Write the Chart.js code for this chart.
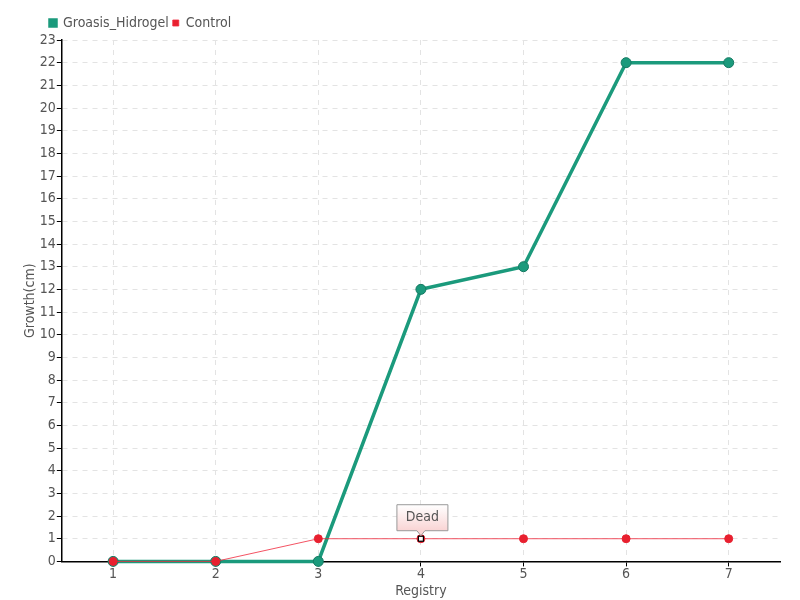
<!DOCTYPE html>
<html>
<head>
<meta charset="utf-8">
<script src="https://cdn.jsdelivr.net/npm/chart.js@4.4.0/dist/chart.umd.min.js"></script>
<style>
  html, body { margin: 0; padding: 0; background: #fff; }
  #wrap { width: 800px; height: 600px; }
</style>
</head>
<body>
<div id="wrap"><canvas id="chart"></canvas></div>
<script>
const REGISTRY = ["1", "2", "3", "4", "5", "6", "7"];
const GROASIS = [0, 0, 0, 12, 13, 22, 22];
const CONTROL = [0, 0, 1, 1, 1, 1, 1];
const DEAD_INDEX = 3;
const DEAD_LABEL = "Dead";

const COLORS = {
  teal: "#1b9a7c",
  tealDark: "#167a63",
  red: "#e8202f",
  text: "#555555",
  grid: "#e3e3e3",
};

const FONT = "'DejaVu Sans Condensed', 'Liberation Sans Narrow', sans-serif";

// legend sits a bit left of the plot area in the original
const legendShift = {
  id: "legendShift",
  afterLayout(chart) {
    chart.legend.left = 46;
  },
};

const deadLabel = {
  id: "deadLabel",
  afterDatasetsDraw(chart) {
    const { ctx, scales } = chart;
    const x = scales.x.getPixelForValue(DEAD_INDEX);
    const y = scales.y.getPixelForValue(CONTROL[DEAD_INDEX]);
    ctx.save();
    // white square marker on top of the red point
    ctx.fillStyle = "#fff";
    ctx.strokeStyle = "#000";
    ctx.lineWidth = 1.2;
    ctx.fillRect(x - 2.5, y - 2.5, 5, 5);
    ctx.strokeRect(x - 2.5, y - 2.5, 5, 5);

    const w = 51, h = 26;
    const left = x - 24, top = y - 34;
    const g = ctx.createLinearGradient(0, top, 0, top + h);
    g.addColorStop(0, "#ffffff");
    g.addColorStop(1, "#f9d4d4");
    ctx.beginPath();
    ctx.moveTo(left, top);
    ctx.lineTo(left + w, top);
    ctx.lineTo(left + w, top + h);
    ctx.lineTo(x + 4, top + h);
    ctx.lineTo(x, top + h + 5);
    ctx.lineTo(x - 4, top + h);
    ctx.lineTo(left, top + h);
    ctx.closePath();
    ctx.fillStyle = g;
    ctx.fill();
    ctx.strokeStyle = "#999";
    ctx.lineWidth = 1;
    ctx.stroke();
    ctx.fillStyle = COLORS.text;
    ctx.font = "14px " + FONT;
    ctx.textAlign = "center";
    ctx.textBaseline = "middle";
    ctx.fillText(DEAD_LABEL, left + w / 2, top + h / 2);
    ctx.restore();
  },
};

new Chart(document.getElementById("chart"), {
  type: "line",
  data: {
    labels: REGISTRY,
    datasets: [
      {
        label: "Groasis_Hidrogel",
        data: GROASIS,
        order: 1,
        clip: false,
        borderColor: COLORS.teal,
        backgroundColor: COLORS.teal,
        borderWidth: 3.5,
        pointRadius: 5,
        pointBackgroundColor: COLORS.teal,
        pointBorderColor: COLORS.tealDark,
        pointBorderWidth: 1,
        tension: 0,
      },
      {
        label: "Control",
        data: CONTROL,
        order: 0,
        clip: false,
        borderColor: "rgba(240, 40, 60, 0.8)",
        backgroundColor: COLORS.red,
        borderWidth: 1,
        pointRadius: 4,
        pointBackgroundColor: COLORS.red,
        pointBorderColor: COLORS.red,
        pointBorderWidth: 1,
        tension: 0,
      },
    ],
  },
  options: {
    responsive: true,
    maintainAspectRatio: false,
    animation: false,
    layout: { padding: { left: 22, right: 20, top: 12, bottom: 0 } },
    plugins: {
      legend: {
        position: "top",
        align: "start",
        fullSize: false,
        labels: {
          boxWidth: 6,
          boxHeight: 6,
          padding: 4,
          color: COLORS.text,
          font: { family: FONT, size: 14 },
          sort: (a, b) => a.datasetIndex - b.datasetIndex,
        },
      },
      tooltip: { enabled: false },
    },
    scales: {
      x: {
        offset: true,
        grid: { color: COLORS.grid, tickColor: "#000", tickLength: 5, offset: false },
        border: { color: "#000", width: 1.5, dash: [5, 5] },
        ticks: { color: COLORS.text, font: { family: FONT, size: 14 }, padding: 0 },
        title: { display: true, text: "Registry", color: COLORS.text, font: { family: FONT, size: 14 }, padding: 0 },
      },
      y: {
        min: 0,
        max: 23,
        grid: { color: COLORS.grid, tickColor: "#000", tickLength: 5 },
        border: { color: "#000", width: 1.5, dash: [5, 5] },
        ticks: { stepSize: 1, color: COLORS.text, font: { family: FONT, size: 14 }, padding: 1 },
        title: { display: true, text: "Growth(cm)", color: COLORS.text, font: { family: FONT, size: 14 }, padding: 0 },
      },
    },
  },
  plugins: [deadLabel, legendShift],
});
</script>
</body>
</html>
